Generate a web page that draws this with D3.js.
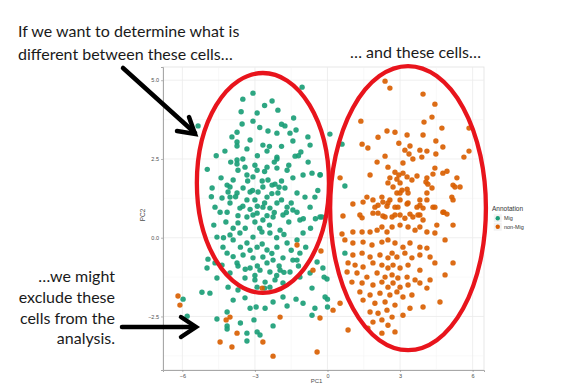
<!DOCTYPE html>
<html>
<head>
<meta charset="utf-8">
<script src="https://cdn.jsdelivr.net/npm/d3@7"></script>
<style>
  body { margin: 0; background: #fff; }
  svg { display: block; }
</style>
</head>
<body>
<svg width="580" height="383"></svg>
<script>
// PC1 / PC2 coordinates
const migPoints = [
  [-3.08,4.59],[-2.29,4.34],[-1.05,4.78],[-3.57,4.0],[-2.91,3.96],[-2.05,4.05],[-5.35,3.55],[-3.08,3.7],[-3.53,3.61],[-1.76,3.55],
  [-2.46,3.39],[-2.09,3.32],[-3.74,3.35],[-1.3,3.42],[-3.95,3.2],[-1.55,3.32],[-0.81,3.2],[-3.74,3.04],[-1.43,3.07],[-2.67,2.94],
  [-3.33,2.82],[-4.24,2.75],[-2.5,2.75],[-3.74,2.91],[-1.1,2.72],[-0.72,2.94],[-1.34,2.59],[-2.09,2.5],[-3.74,2.47],[-3.74,2.34],
  [-2.09,2.56],[-4.97,2.17],[-4.77,1.58],[-4.65,0.97],[-4.36,1.26],[-4.15,1.67],[-4.03,1.61],[-4.11,1.45],[-3.9,1.83],[-3.7,2.14],
  [-3.41,2.24],[-3.33,1.99],[-2.91,2.14],[-3.08,1.93],[-2.5,2.24],[-2.09,2.21],[-1.67,2.14],[-1.43,1.9],[-1.01,1.99],[-0.64,2.05],
  [-0.31,1.99],[-2.46,1.83],[-2.29,1.67],[-2.17,1.7],[-2.67,1.61],[-2.87,1.45],[-3.2,1.45],[-3.49,1.58],[-3.74,1.42],[-4.03,1.29],
  [-3.33,1.2],[-3.0,1.2],[-2.5,1.29],[-2.05,1.42],[-1.76,1.58],[-1.26,1.42],[-0.93,1.29],[-0.52,1.29],[-2.09,1.1],[-1.67,0.97],
  [-2.67,0.97],[-2.38,0.94],[-3.62,0.94],[-3.08,0.72],[-4.15,0.81],[-1.26,0.81],[-0.72,0.97],[-0.23,0.66],
  [-4.44,0.81],[-4.03,1.1],[-3.7,0.47],[-3.62,0.15],[-3.9,-0.07],[-4.57,0.02],[-4.03,0.09],[-3.33,0.66],[-2.91,0.78],[-2.67,0.56],
  [-2.25,0.66],[-1.84,0.72],[-1.43,0.88],[-1.14,0.56],[-1.96,0.24],[-2.38,0.15],[-2.71,0.18],[-3.08,0.02],[-3.33,-0.17],[-2.91,-0.3],
  [-2.5,-0.39],[-2.09,-0.3],[-1.67,-0.17],[-1.26,-0.07],[-1.01,0.15],[-3.49,-0.55],[-3.08,-0.64],[-2.67,-0.61],[-2.25,-0.71],[-1.84,-0.64],
  [-1.43,-0.71],[-3.74,-0.8],[-3.2,-0.96],[-2.79,-1.03],[-2.38,-1.09],[-1.96,-1.03],[-1.55,-1.09],[-3.41,-1.28],[-3.0,-1.34],[-2.58,-1.41],
  [-2.17,-1.34],[-1.84,-1.44],[-2.91,-1.57],[-2.38,-1.57],[-4.03,-1.12],[-4.15,-0.49],[-4.32,-0.3],
  [-3.5,1.0],[-3.2,0.9],[-2.9,1.0],[-2.6,1.1],[-2.2,0.8],[-1.9,1.2],[-3.7,0.7],[-3.0,0.5],[-2.4,0.4],[-1.6,0.5],
  [-3.9,0.3],[-3.4,0.3],[-2.8,0.3],[-2.1,0.0],[-1.8,0.1],[-3.6,-0.3],[-3.2,-0.4],[-2.7,-0.2],[-2.3,-0.5],[-1.5,-0.4],
  [-3.9,-0.6],[-2.9,-0.9],[-2.5,-0.8],[-2.0,-0.9],[-3.4,-1.0],[-1.2,-0.9],[-4.2,0.5],[-3.8,1.3],[-3.1,1.5],[-2.7,1.8],
  [-2.3,1.4],[-1.9,1.8],[-1.5,1.1],[-1.0,0.6],[-0.7,0.3],[-0.9,-0.3],[-4.4,1.9],[-3.5,2.5],[-2.9,2.6],[-2.4,2.9],
  [-1.9,2.9],[-3.2,3.1],[-2.8,3.5],[-1.6,2.3],[-2.2,2.4],[-3.0,2.3],[-2.6,2.1],[-2.0,1.6],[-1.2,2.6],[-4.6,2.6],
  [-4.0,2.4],[-3.3,1.8],[-2.5,0.7],[-1.7,0.8],[-0.4,1.5],[-0.5,0.6],[-2.1,-1.2],[-3.0,-1.2],[-2.6,-1.6],[-1.8,-1.1],
  [-3.7,-0.9],[-4.3,0.0],[-4.7,0.4],[-4.8,1.3],[-1.4,3.8],[-2.6,4.2],[-3.5,4.4],[-1.9,3.6],[-0.8,2.4],
  [-5.97,-1.95],[-5.8,-2.49],[-5.19,-1.73],[-4.94,-0.68],[-4.98,-0.96],[-4.57,-1.28],[-4.57,-2.58],[-4.15,-2.36],[-4.15,-2.8],[-4.15,-2.9],
  [-3.9,-1.98],[-3.7,-1.66],[-3.41,-1.91],[-3.6,-2.71],[-3.33,-3.03],[-3.2,-2.24],[-2.95,-2.2],[-2.58,-2.24],[-3.04,-2.61],[-2.91,-2.99],
  [-2.79,-3.09],[-2.25,-2.8],[-2.25,-2.04],[-1.84,-1.88],[-1.67,-2.17],[-1.3,-1.95],[-1.01,-2.08],[-0.64,-1.6],[-0.64,-2.46],[-0.52,-2.24],
  [0.0,-2.2],[-1.14,-1.25],[-0.72,-1.12],[-1.26,-0.71],[-1.14,-0.49],[-0.43,-0.77],[-3.33,-3.28],[-4.36,-0.87],[-4.86,-1.76],[-4.65,-0.8],
  [-4.11,-1.57],
  [0.1,3.29],[0.6,2.97],[0.72,1.64],[0.72,-0.49],[-0.19,-0.96],[-0.14,-1.25],[-0.02,-1.31],[-0.1,-1.88],[0.0,-1.95],[-0.31,0.66],[-0.3,2.0]
];

const nonMigPoints = [
  [-6.18,-1.85],[-6.1,-2.14],[-4.44,-3.31],[-3.95,-3.47],[-3.74,-3.03],[-4.19,-2.61],[-4.03,-2.52],[-2.67,-3.31],[-2.25,-3.76],[-0.43,-3.63],
  [-1.96,-2.52],[-1.26,-0.23],[-0.27,-0.42],[-0.6,-1.03],[-2.7,-1.6],[-0.31,-2.55],
  [2.38,4.97],[2.58,4.75],[3.95,4.56],[4.44,4.24],[1.38,3.70],[3.99,3.67],[4.32,3.83],[4.73,3.48],[5.85,3.48],[2.46,3.39],
  [2.79,3.35],[2.09,3.19],[3.29,3.26],[3.95,3.26],[4.48,3.07],[1.43,2.97],[2.95,3.0],[1.67,2.85],[3.41,2.91],[3.2,2.78],
  [3.82,2.78],[4.11,2.75],[4.77,2.88],[5.85,2.75],[3.37,2.66],[3.53,2.5],[3.9,2.56],[4.48,2.66],[5.64,2.56],[2.38,2.59],
  [2.05,2.4],[3.12,2.37],[4.44,2.21],[2.5,2.24],[2.79,2.08],[3.12,2.05],[2.95,1.99],[3.7,1.96],[1.76,1.99],[4.36,2.02],
  [4.77,2.05],[4.94,2.11],[2.58,1.9],[2.87,1.86],[3.29,1.93],[4.11,1.9],[0.52,1.9],[2.5,1.74],[3.0,1.74],[3.49,1.83],
  [4.07,1.77],[4.15,1.7],[5.35,1.9],[2.71,1.61],[3.08,1.51],[3.29,1.54],[4.32,1.58],[5.19,1.67],[5.27,1.61],[5.48,1.61],
  [2.87,1.42],[3.0,1.42],[3.33,1.42],[4.11,1.42],[1.63,1.29],[1.88,1.2],[2.25,1.29],[2.29,1.13],[2.58,1.2],[3.0,1.2],
  [3.82,1.2],[4.11,1.2],[5.14,1.29],[5.19,1.2],[1.05,1.07],[1.47,1.13],[1.96,0.97],[2.46,1.0],[2.79,0.97],[3.29,1.07],
  [3.7,0.97],[3.95,0.94],[4.36,0.97],[0.64,0.69],[1.43,0.63],[2.09,0.78],[2.29,0.69],[2.67,0.66],[3.0,0.72],[3.41,0.75],
  [3.53,0.66],[3.82,0.72],[4.77,0.81],[4.94,0.75],
  [2.09,1.03],[2.5,1.1],[2.91,0.97],[3.33,1.1],[3.82,1.03],[4.44,0.97],[4.81,0.81],[1.34,0.72],[1.88,0.78],[2.38,0.66],
  [2.79,0.72],[3.2,0.62],[3.74,0.72],[3.95,0.56],[4.52,0.4],[5.19,0.4],
  [0.6,0.12],[1.05,0.18],[1.43,0.18],[1.76,0.18],[2.05,0.24],[2.25,0.34],[2.46,0.18],[2.67,0.34],[3.0,0.4],[3.33,0.34],
  [3.62,0.24],[3.82,0.34],[4.11,0.18],[4.44,0.15],[4.86,-0.07],
  [0.72,-0.07],[1.05,-0.17],[1.47,-0.14],[1.84,-0.23],[2.25,-0.14],[2.5,-0.07],[2.79,-0.17],[3.12,-0.3],[3.41,-0.17],[3.82,-0.3],[4.11,-0.33],
  [1.05,-0.55],[1.43,-0.49],[1.76,-0.61],[2.17,-0.55],[2.5,-0.64],[2.67,-0.49],[2.87,-0.61],[3.2,-0.49],[3.49,-0.64],[3.82,-0.55],[4.24,-0.61],[4.44,-0.8],
  [0.85,-0.8],[1.14,-0.87],[1.47,-0.93],[1.88,-0.8],[2.25,-0.87],[2.5,-0.96],[2.71,-0.87],[3.0,-0.96],[3.33,-0.87],[3.82,-1.03],[5.19,-0.8],[4.86,-1.18],
  [0.81,-1.09],[1.22,-1.12],[1.63,-1.25],[2.05,-1.12],[2.38,-1.25],[2.67,-1.18],[2.91,-1.28],[3.29,-1.25],[3.62,-1.34],[4.24,-1.34],
  [1.01,-1.41],[1.43,-1.44],[1.88,-1.5],[2.25,-1.41],[2.5,-1.57],[2.71,-1.44],[3.0,-1.57],[3.33,-1.5],[3.82,-1.44],[4.11,-1.6],
  [1.34,-1.72],[1.76,-1.82],[2.17,-1.76],[2.58,-1.82],[2.87,-1.72],[3.12,-1.88],[3.49,-1.82],[4.65,-2.04],[0.52,-2.08],[1.47,-1.98],
  [1.96,-2.08],[2.38,-2.04],[2.79,-2.14],[3.41,-2.24],[3.95,-2.2],
  [0.23,-2.3],[1.76,-2.36],[2.09,-2.4],[2.46,-2.3],[2.67,-2.52],[3.12,-2.46],[2.25,-2.61],[1.88,-2.68],[2.5,-2.78],[0.85,-2.93],
  [1.67,-2.87],[2.25,-3.03],[2.79,-2.99]
];

const xTicks = [-6, -3, 0, 3, 6];
const xMinor = [-4.5, -1.5, 1.5, 4.5];
const yTicks = [-2.5, 0, 2.5, 5];
const yMinor = [-3.75, -1.25, 1.25, 3.75];
const legendLabels = ["Mig", "non-Mig"];

// circled groups, in PC units: [cx, cy, rx, ry]
const groupEllipses = [[-2.67, 1.74, 2.73, 3.49], [3.33, 0.94, 3.22, 4.51]];

const colors = ["#1b9e77", "#d95f02"];
const slideFont = "Lato, 'Open Sans', sans-serif";
const smallFont = "'Liberation Sans', Arial, sans-serif";

const svg = d3.select("svg");
svg.append("rect").attr("width", 580).attr("height", 383).attr("fill", "#fff");

const x = d3.scaleLinear().domain([-6.8, 6.47]).range([163, 484]);
const y = d3.scaleLinear().domain([-4.2, 5.42]).range([370, 67]);

const panel = svg.append("g");
panel.append("rect")
  .attr("x", 163).attr("y", 67).attr("width", 321).attr("height", 303)
  .attr("fill", "#fff").attr("stroke", "#e0e0e0").attr("stroke-width", 0.8);

// grid
panel.selectAll(".gx-minor").data(xMinor).join("line")
  .attr("x1", d => x(d)).attr("x2", d => x(d)).attr("y1", 67).attr("y2", 370)
  .attr("stroke", "#f3f3f3").attr("stroke-width", 0.5);
panel.selectAll(".gy-minor").data(yMinor).join("line")
  .attr("y1", d => y(d)).attr("y2", d => y(d)).attr("x1", 163).attr("x2", 484)
  .attr("stroke", "#f3f3f3").attr("stroke-width", 0.5);
panel.selectAll(".gx").data(xTicks).join("line")
  .attr("x1", d => x(d)).attr("x2", d => x(d)).attr("y1", 67).attr("y2", 370)
  .attr("stroke", "#ebebeb").attr("stroke-width", 0.8);
panel.selectAll(".gy").data(yTicks).join("line")
  .attr("y1", d => y(d)).attr("y2", d => y(d)).attr("x1", 163).attr("x2", 484)
  .attr("stroke", "#ebebeb").attr("stroke-width", 0.8);

// axes
const xAxis = svg.append("g").attr("transform", "translate(0,370)")
  .call(d3.axisBottom(x).tickValues(xTicks).tickSize(2).tickPadding(2));
const yAxis = svg.append("g").attr("transform", "translate(163,0)")
  .call(d3.axisLeft(y).tickValues(yTicks).tickSize(2).tickPadding(2));
[xAxis, yAxis].forEach(a => {
  a.select(".domain").attr("stroke", "#a8a8a8").attr("stroke-width", 1);
  a.selectAll(".tick line").attr("stroke", "#888").attr("stroke-width", 0.6);
  a.selectAll(".tick text").attr("fill", "#4d4d4d").attr("font-size", 5.5)
    .attr("font-family", smallFont);
});
xAxis.selectAll(".tick text").text(d => d < 0 ? "\u2212" + Math.abs(d) : d);
yAxis.selectAll(".tick text").text(d => (d < 0 ? "\u2212" : "") + Math.abs(d).toFixed(1));

svg.append("text").attr("transform", "translate(145,215) rotate(-90)")
  .attr("text-anchor", "middle").attr("font-size", 6.5).attr("fill", "#4d4d4d")
  .attr("font-family", smallFont).text("PC2");
svg.append("text").attr("x", x(-0.45)).attr("y", 382.5)
  .attr("text-anchor", "middle").attr("font-size", 6).attr("fill", "#4d4d4d")
  .attr("font-family", smallFont).text("PC1");

// points
const groups = [migPoints, nonMigPoints];
groups.forEach((pts, i) => {
  svg.append("g").selectAll("circle").data(pts).join("circle")
    .attr("cx", d => x(d[0])).attr("cy", d => y(d[1])).attr("r", 2.7)
    .attr("fill", colors[i]).attr("fill-opacity", 0.92);
});

// legend
const legend = svg.append("g").attr("font-family", smallFont);
legend.append("text").attr("x", 492).attr("y", 211).attr("font-size", 6.5).attr("fill", "#333").text("Annotation");
legendLabels.forEach((lab, i) => {
  const ky = 214 + i * 8.5;
  legend.append("rect").attr("x", 493.5).attr("y", ky).attr("width", 8.5).attr("height", 8.5)
    .attr("fill", "#f2f2f2").attr("stroke", "#fff").attr("stroke-width", 0.5);
  legend.append("circle").attr("cx", 497.75).attr("cy", ky + 4.25).attr("r", 2.2).attr("fill", colors[i]);
  legend.append("text").attr("x", 504).attr("y", ky + 6.2).attr("font-size", 5.5).attr("fill", "#333").text(lab);
});

// red circles around the groups
svg.append("g").selectAll("ellipse").data(groupEllipses).join("ellipse")
  .attr("cx", d => x(d[0])).attr("cy", d => y(d[1]))
  .attr("rx", d => x(d[0] + d[2]) - x(d[0]))
  .attr("ry", d => y(d[1]) - y(d[1] + d[3]))
  .attr("fill", "none").attr("stroke", "#e8141c").attr("stroke-width", 4.3);

// arrows (slide annotation, pixel space)
const arrows = [
  { line: [[123, 68], [195, 133]], head: [[189, 117], [195, 134], [177, 131]] },
  { line: [[122, 327], [195, 327]], head: [[181, 317], [196, 327], [181, 337]] }
];
const ln = d3.line();
arrows.forEach(a => {
  svg.append("path").attr("d", ln(a.line)).attr("stroke", "#000").attr("stroke-width", 4.5)
    .attr("fill", "none").attr("stroke-linecap", "round");
  svg.append("path").attr("d", ln(a.head)).attr("stroke", "#000").attr("stroke-width", 4.5)
    .attr("fill", "none").attr("stroke-linecap", "round").attr("stroke-linejoin", "miter");
});

// slide text
const txt = svg.append("g").attr("font-family", slideFont).attr("font-size", 16).attr("fill", "#1a1a1a");
txt.append("text").attr("x", 18).attr("y", 37).text("If we want to determine what is");
txt.append("text").attr("x", 18).attr("y", 60).text("different between these cells\u2026");
txt.append("text").attr("x", 350).attr("y", 58).text("\u2026 and these cells\u2026");
["\u2026we might", "exclude these", "cells from the", "analysis."].forEach((s, i) => {
  txt.append("text").attr("x", 115).attr("y", 282 + i * 20.8).attr("text-anchor", "end").text(s);
});
</script>
</body>
</html>
